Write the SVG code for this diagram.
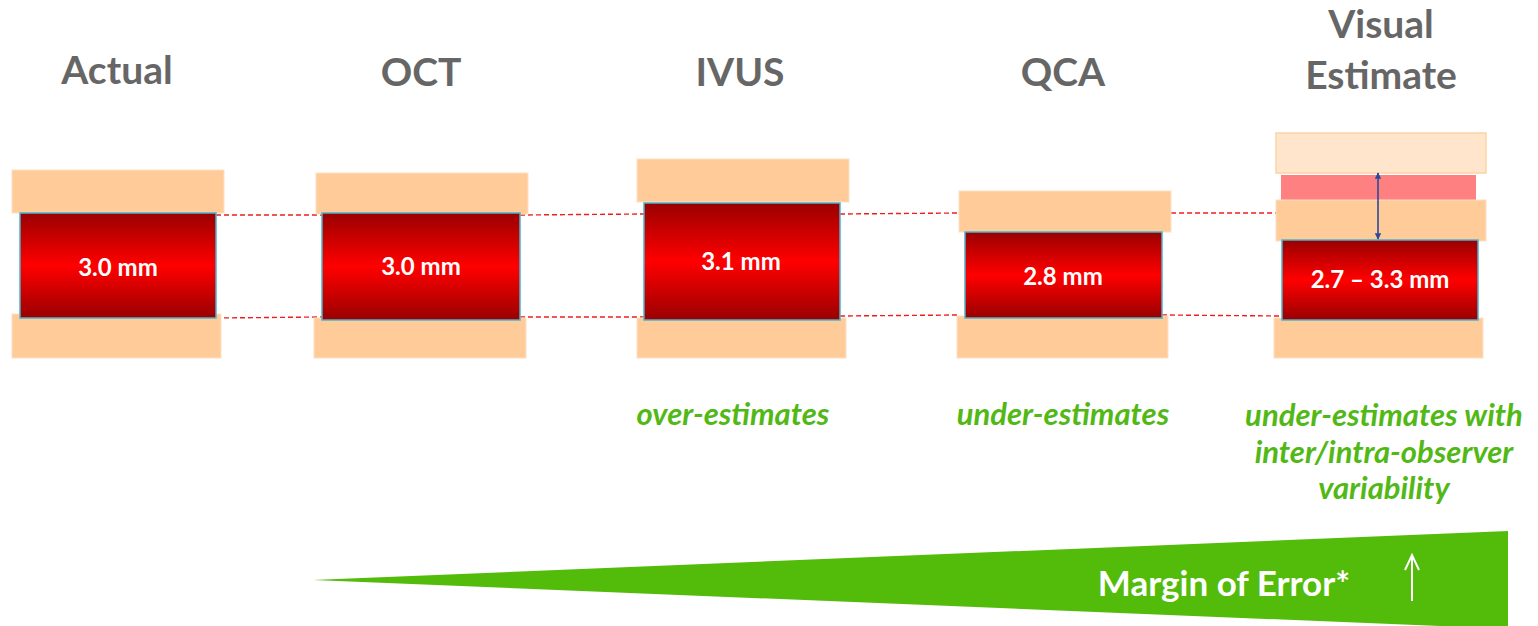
<svg xmlns="http://www.w3.org/2000/svg" width="1538" height="626" viewBox="0 0 1538 626">
  <defs>
    <linearGradient id="lumen" x1="0" y1="0" x2="0" y2="1">
      <stop offset="0" stop-color="#990000"/>
      <stop offset="0.5" stop-color="#FF0000"/>
      <stop offset="1" stop-color="#990000"/>
    </linearGradient>
    <marker id="navyHead" viewBox="0 0 10 10" refX="9" refY="5" markerWidth="4" markerHeight="4" orient="auto-start-reverse">
      <path d="M0,0 L10,5 L0,10 z" fill="#2E4A9A"/>
    </marker>
  </defs>
  <style>
    .head { font-family: Lato, "Liberation Sans", sans-serif; font-weight: 700; font-size: 39px; fill: #666666; text-anchor: middle; }
    .note { font-family: Lato, "Liberation Sans", sans-serif; font-weight: 700; font-style: italic; font-size: 31px; fill: #52B816; text-anchor: middle; }
    .val { font-family: Lato, "Liberation Sans", sans-serif; font-weight: 700; font-size: 24px; fill: #FFFFFF; text-anchor: middle; }
    .tissue { fill: #FFCC99; stroke: #FBE0C4; stroke-width: 1; }
    .lumen { fill: url(#lumen); stroke: #4BB2CC; stroke-width: 1.5; }
    .dash { stroke: #F21C1C; stroke-width: 1.4; stroke-dasharray: 5 3; fill: none; }
  </style>
  <rect width="1538" height="626" fill="#FFFFFF"/>

  <!-- column titles -->
  <g id="titles">
    <text class="head" x="117" y="84">Actual</text>
    <text class="head" x="421" y="86">OCT</text>
    <text class="head" x="740" y="86">IVUS</text>
    <text class="head" x="1063" y="86">QCA</text>
    <text class="head" x="1381" y="38">Visual</text>
    <text class="head" x="1381" y="89">Estimate</text>
  </g>

  <!-- reference lines between the lumen edges -->
  <g id="connectors">
    <line class="dash" x1="216" y1="215" x2="322" y2="215"/>
    <line class="dash" x1="520" y1="215" x2="644" y2="214"/>
    <line class="dash" x1="840" y1="214" x2="959" y2="213"/>
    <line class="dash" x1="1171" y1="213" x2="1276" y2="213"/>
    <line class="dash" x1="216" y1="318" x2="322" y2="317"/>
    <line class="dash" x1="520" y1="317" x2="644" y2="317"/>
    <line class="dash" x1="840" y1="316" x2="957" y2="315"/>
    <line class="dash" x1="1162" y1="315" x2="1282" y2="316"/>
  </g>

  <g id="actual">
    <rect class="tissue" x="12" y="170" width="212" height="43"/>
    <rect class="tissue" x="12" y="314" width="209" height="44"/>
    <rect class="lumen" x="20" y="213" width="196" height="105"/>
    <text class="val" x="118" y="276">3.0 mm</text>
  </g>

  <g id="oct">
    <rect class="tissue" x="316" y="173" width="212" height="41"/>
    <rect class="tissue" x="314" y="318" width="212" height="40"/>
    <rect class="lumen" x="322" y="213" width="198" height="107"/>
    <text class="val" x="421" y="275">3.0 mm</text>
  </g>

  <g id="ivus">
    <rect class="tissue" x="637" y="159" width="212" height="43"/>
    <rect class="tissue" x="637" y="318" width="209" height="40"/>
    <rect class="lumen" x="644" y="203" width="196" height="117"/>
    <text class="val" x="741" y="270">3.1 mm</text>
  </g>

  <g id="qca">
    <rect class="tissue" x="959" y="191" width="212" height="41"/>
    <rect class="tissue" x="957" y="316" width="211" height="42"/>
    <rect class="lumen" x="965" y="232" width="197" height="86"/>
    <text class="val" x="1063" y="285">2.8 mm</text>
  </g>

  <g id="visual">
    <rect x="1276" y="133" width="210" height="40" fill="#FFE5CC" stroke="#FBD2A6" stroke-width="1.5"/>
    <rect x="1281" y="175" width="195" height="25" fill="#FF8080"/>
    <rect class="tissue" x="1276" y="200" width="210" height="41"/>
    <rect class="tissue" x="1274" y="318" width="209" height="40"/>
    <rect class="lumen" x="1282" y="240" width="196" height="80"/>
    <text class="val" x="1380" y="288">2.7 – 3.3 mm</text>
    <line x1="1378" y1="173" x2="1378" y2="239" stroke="#2E4A9A" stroke-width="1.6" marker-start="url(#navyHead)" marker-end="url(#navyHead)"/>
  </g>

  <g id="notes">
    <text class="note" x="733" y="425">over-estimates</text>
    <text class="note" x="1063" y="425">under-estimates</text>
    <text class="note" x="1384" y="426">under-estimates with</text>
    <text class="note" x="1384" y="463">inter/intra-observer</text>
    <text class="note" x="1384" y="499">variability</text>
  </g>

  <g id="margin">
    <polygon points="313,580 1508,531 1508,626 1440,626" fill="#53BC0A"/>
    <text x="1224" y="596" font-family="Lato, 'Liberation Sans', sans-serif" font-weight="700" font-size="35" fill="#FFFFFF" text-anchor="middle">Margin of Error*</text>
    <path d="M1412,601 L1412,556 M1405,570 L1412,555 L1419,570" stroke="#FFFFFF" stroke-width="2" fill="none"/>
  </g>
</svg>
